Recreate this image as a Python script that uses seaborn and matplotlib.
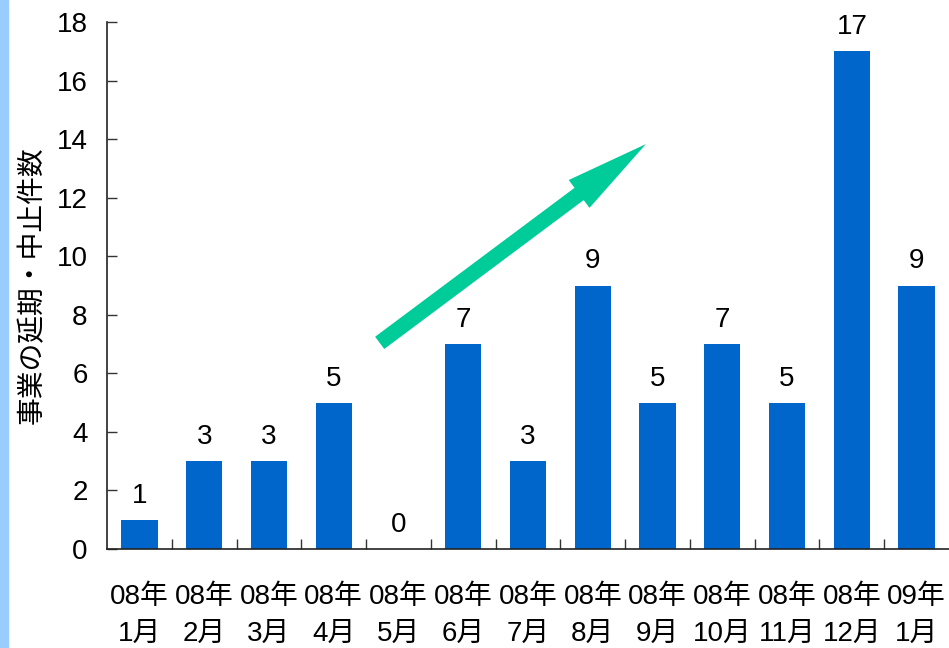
import matplotlib.pyplot as plt
import seaborn as sns
import pandas as pd
from matplotlib.patches import FancyArrowPatch, Rectangle

# data
months = ["08年\n1月", "08年\n2月", "08年\n3月", "08年\n4月", "08年\n5月", "08年\n6月",
          "08年\n7月", "08年\n8月", "08年\n9月", "08年\n10月", "08年\n11月", "08年\n12月",
          "09年\n1月"]
counts = [1, 3, 3, 5, 0, 7, 3, 9, 5, 7, 5, 17, 9]
y_ticks = [0, 2, 4, 6, 8, 10, 12, 14, 16, 18]

df = pd.DataFrame({"month": months, "count": counts})

sns.set_theme(style="white")
plt.rcParams["font.family"] = ["Liberation Sans", "Noto Sans CJK JP", "DejaVu Sans"]
plt.rcParams["text.color"] = "black"
plt.rcParams["xtick.color"] = "black"
plt.rcParams["ytick.color"] = "black"

fig = plt.figure(figsize=(9.49, 6.48), dpi=100)
ax = fig.add_axes([107 / 949, 99 / 648, 842 / 949, 527 / 648])

sns.barplot(data=df, x="month", y="count", color="#0066CC", saturation=1,
            width=0.56, linewidth=0, ax=ax)

ax.set_ylim(0, 18)
ax.set_xlim(-0.5, len(months) - 0.5)
ax.set_yticks(y_ticks)
ax.tick_params(axis="y", direction="in", length=7, width=1, color="#333333",
               labelsize=20, labelcolor="black", pad=14, left=True)
ax.tick_params(axis="x", length=0, labelsize=20, labelcolor="black", pad=25)
ax.set_xticks(range(len(months)))
ax.set_xticklabels(months, linespacing=1.55)
ax.set_xticks([i + 0.5 for i in range(len(months) - 1)], minor=True)
ax.tick_params(axis="x", which="minor", direction="in", length=7, width=1,
               color="#333333", bottom=True)

ax.set_xlabel("")
ax.set_ylabel("事業の延期・中止件数", fontsize=20, labelpad=7, color="black",
              family=["Noto Sans CJK JP", "DejaVu Sans"])

for s in ["top", "right"]:
    ax.spines[s].set_visible(False)
for s in ["left", "bottom"]:
    ax.spines[s].set_color("#222222")
    ax.spines[s].set_linewidth(1.2)

ax.bar_label(ax.containers[0], fontsize=20, padding=8, color="black")

# trend arrow
arrow = FancyArrowPatch((3.71, 7.04), (7.82, 13.83),
                        arrowstyle="simple,head_length=60,head_width=25,tail_width=11",
                        mutation_scale=1, color="#00CC99", lw=0,
                        shrinkA=0, shrinkB=0)
ax.add_patch(arrow)

# light blue band at the left edge
fig.patches.append(Rectangle((0, 0), 8 / 949, 1, transform=fig.transFigure,
                             color="#99CCFF", zorder=0))

fig.savefig("out.png", dpi=100)
